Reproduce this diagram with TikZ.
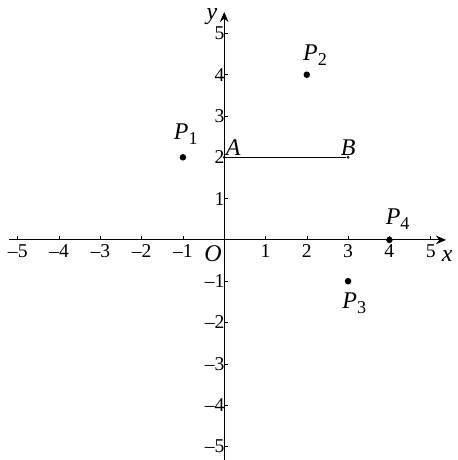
\documentclass[tikz,border=0pt]{standalone}
\usepackage{fontspec}
\setmainfont{Liberation Serif}
\usetikzlibrary{arrows.meta}
\newcommand{\ptname}[1]{\textit{P}\raisebox{-0.45ex}{\fontsize{12.5}{12.5}\selectfont #1}}
\tikzset{
  ticklab/.style={font=\fontsize{13.5}{13.5}\selectfont, inner sep=1pt},
  ptlab/.style={font=\fontsize{16.5}{16.5}\selectfont, inner sep=1pt},
  dot/.style={circle, fill, inner sep=0pt, minimum size=4.5pt},
  smalldot/.style={circle, fill, inner sep=0pt, minimum size=2pt}
}
\begin{document}
\begin{tikzpicture}[>={Stealth[length=7pt,width=6pt,inset=2.5pt]}]
    \useasboundingbox (-5.43,-5.33) rectangle (5.66,5.81);
    \draw[->, line width=0.6pt] (-5.2,0) -- (5.37,0);
    \draw[->, line width=0.6pt] (0,-5.33) -- (0,5.52);
    \foreach \x in {-5,...,-1,1,2,3,4,5} {
        \draw (\x,0) -- (\x,0.1);
        \node[ticklab, below] (xt\x) at (\x,-0.08) {\ifnum\x<0 –\number-\x\else\x\fi};
    }
    \foreach \y in {-5,...,-1,1,2,3,4,5} {
        \draw (0,\y) -- (0.1,\y);
        \node[ticklab, left] (yt\y) at (0.05,\y) {\ifnum\y<0 –\number-\y\else\y\fi};
    }
    \node[ptlab] (xlab) at (5.4,-0.4) {\textit{x}};
    \node[ptlab] (ylab) at (-0.3,5.42) {\textit{y}};
    \node[ptlab] (O) at (-0.27,-0.33) {\textit{O}};

    \node[smalldot] (A) at (0,2) {};
    \node[smalldot] (B) at (3,2) {};
    \draw[line width=0.6pt] (A) -- (B);
    \node[ptlab, above right] (Alab) at (A) {\textit{A}};
    \node[ptlab, above] (Blab) at (B) {\textit{B}};

    \node[dot] (P1) at (-1,2) {};
    \node[dot] (P2) at (2,4) {};
    \node[dot] (P3) at (3,-1) {};
    \node[dot] (P4) at (4,0) {};
    \node[ptlab] (P1lab) at (-0.93,2.55) {\ptname{1}};
    \node[ptlab] (P2lab) at (2.2,4.48) {\ptname{2}};
    \node[ptlab] (P3lab) at (3.15,-1.53) {\ptname{3}};
    \node[ptlab] (P4lab) at (4.2,0.5) {\ptname{4}};
\end{tikzpicture}
\end{document}
